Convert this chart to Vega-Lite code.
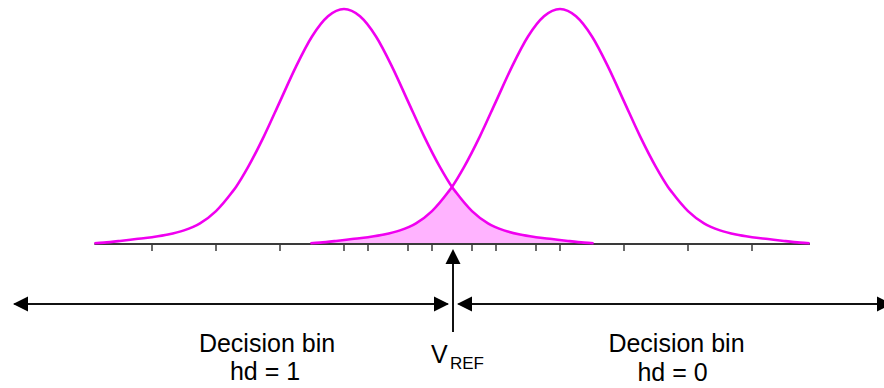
{
  "$schema": "https://vega.github.io/schema/vega-lite/v6.json",
  "width": 884,
  "height": 388,
  "padding": 0,
  "autosize": {"type": "none"},
  "config": {"view": {"stroke": null}},
  "datasets": {
    "curves": [
      {"curve": "hd1", "x": -3.9, "y": 0.003},
      {"curve": "hd1", "x": -3.75, "y": 0.006},
      {"curve": "hd1", "x": -3.5, "y": 0.013},
      {"curve": "hd1", "x": -3.25, "y": 0.021},
      {"curve": "hd1", "x": -3.0, "y": 0.029},
      {"curve": "hd1", "x": -2.75, "y": 0.040},
      {"curve": "hd1", "x": -2.5, "y": 0.058},
      {"curve": "hd1", "x": -2.25, "y": 0.088},
      {"curve": "hd1", "x": -2.0, "y": 0.140},
      {"curve": "hd1", "x": -1.75, "y": 0.220},
      {"curve": "hd1", "x": -1.6875, "y": 0.243},
      {"curve": "hd1", "x": -1.5, "y": 0.327},
      {"curve": "hd1", "x": -1.25, "y": 0.459},
      {"curve": "hd1", "x": -1.0, "y": 0.607},
      {"curve": "hd1", "x": -0.75, "y": 0.755},
      {"curve": "hd1", "x": -0.5, "y": 0.883},
      {"curve": "hd1", "x": -0.25, "y": 0.969},
      {"curve": "hd1", "x": 0.0, "y": 1.0},
      {"curve": "hd1", "x": 0.25, "y": 0.969},
      {"curve": "hd1", "x": 0.5, "y": 0.883},
      {"curve": "hd1", "x": 0.75, "y": 0.755},
      {"curve": "hd1", "x": 1.0, "y": 0.607},
      {"curve": "hd1", "x": 1.25, "y": 0.459},
      {"curve": "hd1", "x": 1.5, "y": 0.327},
      {"curve": "hd1", "x": 1.6875, "y": 0.243},
      {"curve": "hd1", "x": 1.75, "y": 0.220},
      {"curve": "hd1", "x": 2.0, "y": 0.140},
      {"curve": "hd1", "x": 2.25, "y": 0.088},
      {"curve": "hd1", "x": 2.5, "y": 0.058},
      {"curve": "hd1", "x": 2.75, "y": 0.040},
      {"curve": "hd1", "x": 3.0, "y": 0.029},
      {"curve": "hd1", "x": 3.25, "y": 0.021},
      {"curve": "hd1", "x": 3.5, "y": 0.013},
      {"curve": "hd1", "x": 3.75, "y": 0.006},
      {"curve": "hd1", "x": 3.9, "y": 0.003},
      {"curve": "hd0", "x": -0.525, "y": 0.003},
      {"curve": "hd0", "x": -0.375, "y": 0.006},
      {"curve": "hd0", "x": -0.125, "y": 0.013},
      {"curve": "hd0", "x": 0.125, "y": 0.021},
      {"curve": "hd0", "x": 0.375, "y": 0.029},
      {"curve": "hd0", "x": 0.625, "y": 0.040},
      {"curve": "hd0", "x": 0.875, "y": 0.058},
      {"curve": "hd0", "x": 1.125, "y": 0.088},
      {"curve": "hd0", "x": 1.375, "y": 0.140},
      {"curve": "hd0", "x": 1.625, "y": 0.220},
      {"curve": "hd0", "x": 1.6875, "y": 0.243},
      {"curve": "hd0", "x": 1.875, "y": 0.327},
      {"curve": "hd0", "x": 2.125, "y": 0.459},
      {"curve": "hd0", "x": 2.375, "y": 0.607},
      {"curve": "hd0", "x": 2.625, "y": 0.755},
      {"curve": "hd0", "x": 2.875, "y": 0.883},
      {"curve": "hd0", "x": 3.125, "y": 0.969},
      {"curve": "hd0", "x": 3.375, "y": 1.0},
      {"curve": "hd0", "x": 3.625, "y": 0.969},
      {"curve": "hd0", "x": 3.875, "y": 0.883},
      {"curve": "hd0", "x": 4.125, "y": 0.755},
      {"curve": "hd0", "x": 4.375, "y": 0.607},
      {"curve": "hd0", "x": 4.625, "y": 0.459},
      {"curve": "hd0", "x": 4.875, "y": 0.327},
      {"curve": "hd0", "x": 5.0625, "y": 0.243},
      {"curve": "hd0", "x": 5.125, "y": 0.220},
      {"curve": "hd0", "x": 5.375, "y": 0.140},
      {"curve": "hd0", "x": 5.625, "y": 0.088},
      {"curve": "hd0", "x": 5.875, "y": 0.058},
      {"curve": "hd0", "x": 6.125, "y": 0.040},
      {"curve": "hd0", "x": 6.375, "y": 0.029},
      {"curve": "hd0", "x": 6.625, "y": 0.021},
      {"curve": "hd0", "x": 6.875, "y": 0.013},
      {"curve": "hd0", "x": 7.125, "y": 0.006},
      {"curve": "hd0", "x": 7.275, "y": 0.003}
    ],
    "shade": [
      {"x": -0.525, "y": 0.003},
      {"x": -0.375, "y": 0.006},
      {"x": -0.125, "y": 0.013},
      {"x": 0.125, "y": 0.021},
      {"x": 0.375, "y": 0.029},
      {"x": 0.625, "y": 0.040},
      {"x": 0.875, "y": 0.058},
      {"x": 1.125, "y": 0.088},
      {"x": 1.375, "y": 0.140},
      {"x": 1.625, "y": 0.220},
      {"x": 1.6875, "y": 0.243},
      {"x": 1.75, "y": 0.220},
      {"x": 2.0, "y": 0.140},
      {"x": 2.25, "y": 0.088},
      {"x": 2.5, "y": 0.058},
      {"x": 2.75, "y": 0.040},
      {"x": 3.0, "y": 0.029},
      {"x": 3.25, "y": 0.021},
      {"x": 3.5, "y": 0.013},
      {"x": 3.75, "y": 0.006},
      {"x": 3.9, "y": 0.003}
    ],
    "baseline": [{"x1": -3.9, "x2": 7.28}],
    "ticks": [
      {"x": -3}, {"x": -2}, {"x": -1}, {"x": 0}, {"x": 1}, {"x": 2}, {"x": 3},
      {"x": 0.375}, {"x": 1.375}, {"x": 2.375}, {"x": 3.375}, {"x": 4.375}, {"x": 5.375}, {"x": 6.375}
    ],
    "arrows": [
      {"x1": -5.15, "x2": 1.62, "y1": -0.2553, "y2": -0.2553},
      {"x1": 1.79, "x2": 8.56, "y1": -0.2553, "y2": -0.2553},
      {"x1": 1.703, "x2": 1.703, "y1": -0.3745, "y2": -0.04}
    ],
    "heads": [
      {"dir": "left", "x": -5.172, "y": -0.2553},
      {"dir": "right", "x": 1.641, "y": -0.2553},
      {"dir": "left", "x": 1.766, "y": -0.2553},
      {"dir": "right", "x": 8.5625, "y": -0.2553},
      {"dir": "up", "x": 1.703, "y": -0.0213}
    ],
    "labels": [
      {"text": "Decision bin", "x": -1.203, "y": -0.4596},
      {"text": "hd = 1", "x": -1.234, "y": -0.5787},
      {"text": "Decision bin", "x": 5.195, "y": -0.4596},
      {"text": "hd = 0", "x": 5.133, "y": -0.5851}
    ],
    "vref": [
      {"text": "V", "part": "main", "x": 1.36, "y": -0.5043},
      {"text": "REF", "part": "sub", "x": 1.656, "y": -0.5319}
    ]
  },
  "layer": [
    {
      "data": {"name": "shade"},
      "mark": {"type": "area", "interpolate": "monotone", "fill": "#ffb3ff", "opacity": 1},
      "encoding": {
        "x": {"field": "x", "type": "quantitative", "scale": {"domain": [-5.375, 8.4375], "nice": false, "zero": false}, "axis": null},
        "y": {"field": "y", "type": "quantitative", "scale": {"domain": [-0.6128, 1.0383], "nice": false, "zero": false}, "axis": null},
        "y2": {"datum": 0}
      }
    },
    {
      "data": {"name": "baseline"},
      "mark": {"type": "rule", "color": "#3a3a3a", "strokeWidth": 2},
      "encoding": {
        "x": {"field": "x1", "type": "quantitative", "scale": {"domain": [-5.375, 8.4375], "nice": false, "zero": false}, "axis": null},
        "x2": {"field": "x2"},
        "y": {"datum": 0, "type": "quantitative", "scale": {"domain": [-0.6128, 1.0383], "nice": false, "zero": false}, "axis": null}
      }
    },
    {
      "data": {"name": "ticks"},
      "mark": {"type": "rule", "color": "#3a3a3a", "strokeWidth": 1.5},
      "encoding": {
        "x": {"field": "x", "type": "quantitative", "scale": {"domain": [-5.375, 8.4375], "nice": false, "zero": false}, "axis": null},
        "y": {"datum": 0, "type": "quantitative", "scale": {"domain": [-0.6128, 1.0383], "nice": false, "zero": false}, "axis": null},
        "y2": {"datum": -0.0298}
      }
    },
    {
      "data": {"name": "curves"},
      "mark": {"type": "line", "interpolate": "monotone", "color": "#f000f0", "strokeWidth": 2.6},
      "encoding": {
        "x": {"field": "x", "type": "quantitative", "scale": {"domain": [-5.375, 8.4375], "nice": false, "zero": false}, "axis": null},
        "y": {"field": "y", "type": "quantitative", "scale": {"domain": [-0.6128, 1.0383], "nice": false, "zero": false}, "axis": null},
        "detail": {"field": "curve", "type": "nominal"}
      }
    },
    {
      "data": {"name": "arrows"},
      "mark": {"type": "rule", "color": "#111111", "strokeWidth": 2},
      "encoding": {
        "x": {"field": "x1", "type": "quantitative", "scale": {"domain": [-5.375, 8.4375], "nice": false, "zero": false}, "axis": null},
        "x2": {"field": "x2"},
        "y": {"field": "y1", "type": "quantitative", "scale": {"domain": [-0.6128, 1.0383], "nice": false, "zero": false}, "axis": null},
        "y2": {"field": "y2"}
      }
    },
    {
      "data": {"name": "heads"},
      "mark": {"type": "point", "filled": true, "color": "#000000", "opacity": 1, "size": 225, "strokeWidth": 0, "clip": true},
      "encoding": {
        "x": {"field": "x", "type": "quantitative", "scale": {"domain": [-5.375, 8.4375], "nice": false, "zero": false}, "axis": null},
        "y": {"field": "y", "type": "quantitative", "scale": {"domain": [-0.6128, 1.0383], "nice": false, "zero": false}, "axis": null},
        "shape": {"field": "dir", "type": "nominal", "scale": {"domain": ["left", "right", "up"], "range": ["M0,0L2,-1L2,1Z", "M0,0L-2,-1L-2,1Z", "M0,0L-1,2L1,2Z"]}, "legend": null}
      }
    },
    {
      "data": {"name": "labels"},
      "mark": {"type": "text", "font": "Liberation Sans", "fontSize": 25, "align": "center", "baseline": "alphabetic", "color": "#000000"},
      "encoding": {
        "x": {"field": "x", "type": "quantitative", "scale": {"domain": [-5.375, 8.4375], "nice": false, "zero": false}, "axis": null},
        "y": {"field": "y", "type": "quantitative", "scale": {"domain": [-0.6128, 1.0383], "nice": false, "zero": false}, "axis": null},
        "text": {"field": "text", "type": "nominal"}
      }
    },
    {
      "data": {"name": "vref"},
      "transform": [{"filter": "datum.part === 'main'"}],
      "mark": {"type": "text", "font": "Liberation Sans", "fontSize": 25, "align": "left", "baseline": "alphabetic", "color": "#000000"},
      "encoding": {
        "x": {"field": "x", "type": "quantitative", "scale": {"domain": [-5.375, 8.4375], "nice": false, "zero": false}, "axis": null},
        "y": {"field": "y", "type": "quantitative", "scale": {"domain": [-0.6128, 1.0383], "nice": false, "zero": false}, "axis": null},
        "text": {"field": "text", "type": "nominal"}
      }
    },
    {
      "data": {"name": "vref"},
      "transform": [{"filter": "datum.part === 'sub'"}],
      "mark": {"type": "text", "font": "Liberation Sans", "fontSize": 17, "align": "left", "baseline": "alphabetic", "color": "#000000"},
      "encoding": {
        "x": {"field": "x", "type": "quantitative", "scale": {"domain": [-5.375, 8.4375], "nice": false, "zero": false}, "axis": null},
        "y": {"field": "y", "type": "quantitative", "scale": {"domain": [-0.6128, 1.0383], "nice": false, "zero": false}, "axis": null},
        "text": {"field": "text", "type": "nominal"}
      }
    }
  ]
}
